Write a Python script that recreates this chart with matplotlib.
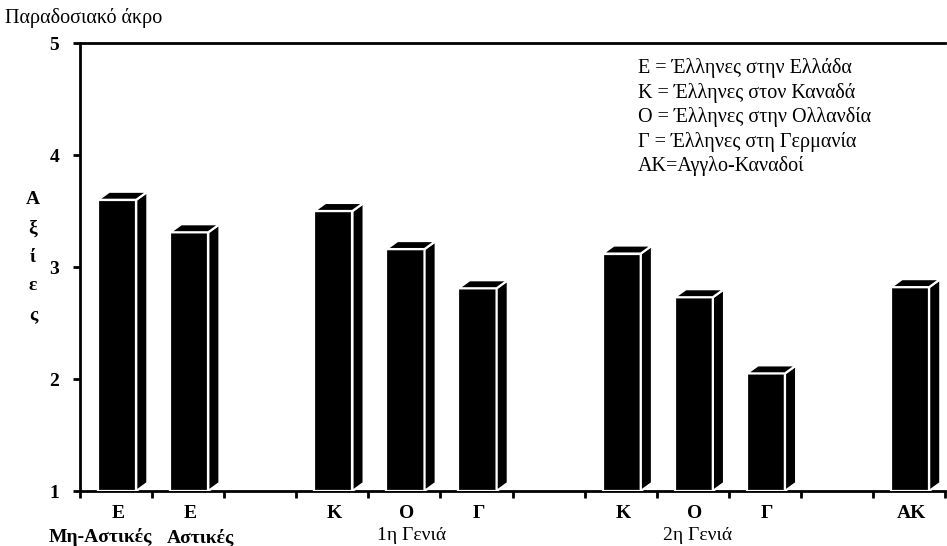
import numpy as np
import matplotlib.pyplot as plt
from matplotlib.patches import Polygon

# bar values (scale 1-5), one per occupied slot
slots = [0, 1, 3, 4, 5, 7, 8, 9, 11]
values = [3.60, 3.31, 3.50, 3.16, 2.81, 3.12, 2.73, 2.05, 2.82]
cat_labels = ['E', 'E', 'K', 'O', 'Γ', 'K', 'O', 'Γ', 'AK']
group_labels = ['Μη-Αστικές', 'Αστικές', '1η Γενιά', '2η Γενιά']
group_pos = [0.28, 1.67, 4.6, 8.57]
legend_lines = ['E = Έλληνες στην Ελλάδα',
                'K = Έλληνες στον Καναδά',
                'O = Έλληνες στην Ολλανδία',
                'Γ = Έλληνες στη Γερμανία',
                'AK=Αγγλο-Καναδοί']
yticks = [1, 2, 3, 4, 5]
ylab = ['Α', 'ξ', 'ί', 'ε', 'ς']

plt.rcParams['font.family'] = ['Liberation Serif', 'DejaVu Serif']

fig = plt.figure(figsize=(9.47, 5.46), dpi=100)
ax = fig.add_axes([80/947, 1-491/546, 865/947, 448/546])

off = 0.25    # front face start inside slot
w = 0.53      # front face width
dx = 0.155    # depth offset in x
dy = 0.072    # depth offset in y

for s, v in zip(slots, values):
    x0 = s + off
    x1 = x0 + w
    front = Polygon([(x0, 1), (x1, 1), (x1, v), (x0, v)], closed=True,
                    facecolor='black', edgecolor='white', lw=1.6, zorder=3)
    side = Polygon([(x1, 1), (x1+dx, 1+dy), (x1+dx, v+dy), (x1, v)], closed=True,
                   facecolor='black', edgecolor='white', lw=1.6, zorder=3)
    top = Polygon([(x0, v), (x1, v), (x1+dx, v+dy), (x0+dx, v+dy)], closed=True,
                  facecolor='black', edgecolor='white', lw=1.6, zorder=3)
    for p in (front, side, top):
        ax.add_patch(p)

ax.set_xlim(0, 12)
ax.set_ylim(1, 5)
ax.set_xticks(np.arange(0, 13))
ax.set_xticklabels([])
ax.set_yticks(yticks)
ax.set_yticklabels([str(t) for t in yticks], fontsize=14, fontweight='bold')
ax.tick_params(axis='both', direction='out', length=5, width=2, pad=10)
ax.tick_params(axis='x', length=5)

for sp in ['left', 'bottom', 'top']:
    ax.spines[sp].set_linewidth(2)
ax.spines['right'].set_visible(False)

for s, lab in zip(slots, cat_labels):
    ax.text(s + 0.53, -0.05, lab, transform=ax.get_xaxis_transform(),
            ha='center', va='center', fontsize=14, fontweight='bold')

for gp, lab in zip(group_pos, group_labels):
    bold = gp < 2
    ax.text(gp, -0.103 if bold else -0.1, lab,
            transform=ax.get_xaxis_transform(), ha='center', va='center',
            fontsize=14, fontweight='bold' if bold else 'normal')

for i, line in enumerate(legend_lines):
    fig.text(638/947, 1 - (68 + i*24.5)/546, line, ha='left', va='center',
             fontsize=14.5)

fig.text(33/947, 1-257/546, '\n'.join(ylab), ha='center', va='center',
         fontsize=14, fontweight='bold', linespacing=1.9)

fig.text(5/947, 1-18/546, 'Παραδοσιακό άκρο', ha='left', va='center',
         fontsize=14.5)

plt.savefig('out.png', dpi=100)
